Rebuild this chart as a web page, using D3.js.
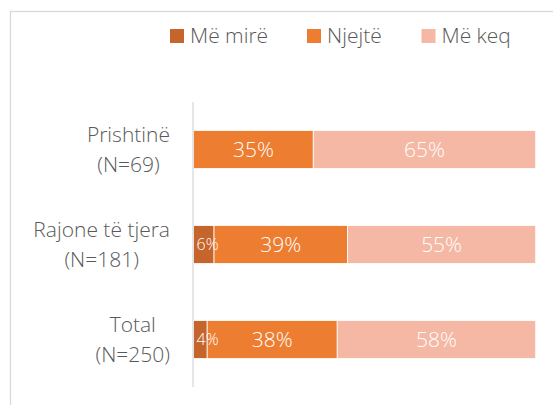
<!DOCTYPE html>
<html>
<head>
<meta charset="utf-8">
<script src="https://cdn.jsdelivr.net/npm/d3@7"></script>
<style>
  html, body { margin: 0; padding: 0; background: #fff; }
  svg { display: block; }
  text { font-family: "Open Sans", Lato, sans-serif; font-weight: 300; }
</style>
</head>
<body>
<svg id="chart" width="553" height="405"></svg>
<script>
// Share of respondents per region and outlook (percent)
const categories = ["Prishtinë", "Rajone të tjera", "Total"];
const sampleSizes = ["(N=69)", "(N=181)", "(N=250)"];
const seriesNames = ["Më mirë", "Njejtë", "Më keq"];
const better = [0, 6, 4];
const same = [35, 39, 38];
const worse = [65, 55, 58];
const colors = ["#C5652B", "#ED7D31", "#F4B8A5"];

const svg = d3.select("#chart");
const W = 553, H = 405;

// outer chart frame (extends past the visible area on the right and bottom)
svg.append("rect")
  .attr("x", 10.5).attr("y", 11.5)
  .attr("width", W).attr("height", H)
  .attr("fill", "#fff").attr("stroke", "#D9D9D9").attr("stroke-width", 1.3);

const x = d3.scaleLinear().domain([0, 100]).range([193.5, 535.7]);
const y = d3.scaleBand().domain(categories).range([102, 387])
  .paddingInner(0.6).paddingOuter(0.3);

const rows = categories.map((c, i) => ({ cat: c, n: sampleSizes[i], values: [better[i], same[i], worse[i]] }));
const stack = d3.stack().keys([0, 1, 2]).value((d, k) => d.values[k]);
const layers = stack(rows);

const barG = svg.append("g");
const labelG = svg.append("g");
layers.forEach((layer, k) => {
  const segs = layer.filter(d => d[1] - d[0] > 0);
  barG.append("g").selectAll("rect").data(segs).join("rect")
    .attr("x", d => x(d[0]))
    .attr("y", d => y(d.data.cat))
    .attr("width", d => x(d[1]) - x(d[0]))
    .attr("height", y.bandwidth())
    .attr("fill", colors[k])
    .attr("stroke", "#fff").attr("stroke-width", 0.8);
  labelG.append("g").selectAll("text").data(segs).join("text")
    .attr("x", d => k === 0 ? x(d[0]) + 3 : (x(d[0]) + x(d[1])) / 2)
    .attr("y", d => y(d.data.cat) + y.bandwidth() / 2)
    .attr("dy", "0.36em")
    .attr("text-anchor", k === 0 ? "start" : "middle")
    .attr("fill", "#fff")
    .attr("font-size", k === 0 ? 16 : 21)
    .text(d => (d[1] - d[0]) + "%");
});

// category axis line
svg.append("line")
  .attr("x1", 193).attr("x2", 193)
  .attr("y1", y.range()[0]).attr("y2", y.range()[1])
  .attr("stroke", "#D9D9D9").attr("stroke-width", 1.3);

// wrapped category labels, centred as a block right-aligned to the axis
const labelRight = 170;
rows.forEach(r => {
  const cy = y(r.cat) + y.bandwidth() / 2;
  const lab = svg.append("g");
  const t1 = lab.append("text").attr("y", cy - 8).text(r.cat);
  const t2 = lab.append("text").attr("y", cy + 22).text(r.n);
  lab.selectAll("text").attr("fill", "#595959").attr("font-size", 21).attr("text-anchor", "middle");
  const w = Math.max(t1.node().getComputedTextLength(), t2.node().getComputedTextLength());
  lab.selectAll("text").attr("x", labelRight - w / 2);
});

// legend
const legendX = [170, 307, 421.5];
seriesNames.forEach((name, i) => {
  svg.append("rect").attr("x", legendX[i]).attr("y", 29).attr("width", 14).attr("height", 14).attr("fill", colors[i]);
  svg.append("text").attr("x", legendX[i] + 20).attr("y", 42.7)
    .attr("fill", "#595959").attr("font-size", 21).text(name);
});
</script>
</body>
</html>
